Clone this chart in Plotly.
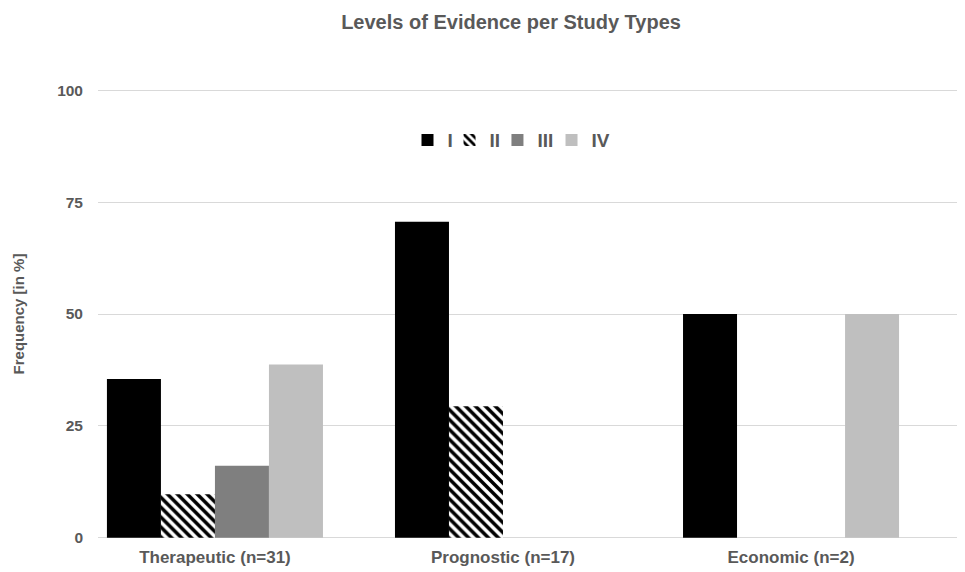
import plotly.graph_objects as go

categories = ["Therapeutic (n=31)", "Prognostic (n=17)", "Economic (n=2)"]
levels = ["I", "II", "III", "IV"]
values_I = [35.5, 70.6, 50.0]
values_II = [9.7, 29.4, 0]
values_III = [16.1, 0, 0]
values_IV = [38.7, 0, 50.0]
y_ticks = [0, 25, 50, 75, 100]

series = [values_I, values_II, values_III, values_IV]
colors = ["#000000", "#ffffff", "#7f7f7f", "#bfbfbf"]
legend_ids = ["legend", "legend2", "legend3", "legend4"]
legend_x = [0.3578, 0.4064, 0.4618, 0.5243]

font_fam = "Liberation Sans, Arial, sans-serif"
txt = "#595959"

fig = go.Figure()
for name, vals, col, lid in zip(levels, series, colors, legend_ids):
    if name == "II":
        marker = dict(color="#ffffff",
                      pattern=dict(shape="\\", fgcolor="#000000", bgcolor="#ffffff",
                                   fgopacity=1, size=7, solidity=0.5))
    else:
        marker = dict(color=col)
    marker["line"] = dict(width=0)
    fig.add_trace(go.Bar(x=list(range(len(categories))), y=vals,
                         name="<b>" + name + "</b>", marker=marker, legend=lid))

legend_style = dict(orientation="h", xanchor="left", y=0.8846, yanchor="middle",
                    font=dict(family=font_fam, size=19, color=txt),
                    itemwidth=30, bgcolor="rgba(0,0,0,0)", borderwidth=0)
legends = {}
for lid, lx in zip(legend_ids, legend_x):
    legends[lid] = dict(legend_style, x=lx)

fig.update_layout(
    width=965, height=572,
    barmode="group", bargap=0.25, bargroupgap=0,
    plot_bgcolor="white", paper_bgcolor="white",
    margin=dict(l=90, r=10, t=79.8, b=39.8, autoexpand=False),
    title=dict(text="<b>Levels of Evidence per Study Types</b>", x=0.4775, xref="paper",
               xanchor="center", y=0.9755, yanchor="middle",
               font=dict(family=font_fam, size=20, color=txt)),
    showlegend=True,
    font=dict(family=font_fam),
    **legends,
)

fig.update_xaxes(
    tickmode="array", tickvals=list(range(len(categories))),
    ticktext=["<b>" + c + "</b>" for c in categories],
    range=[-0.406, 2.597], showgrid=False, zeroline=False, showline=False,
    ticks="", automargin=False, ticklabelstandoff=5,
    tickfont=dict(family=font_fam, size=17, color=txt),
)
fig.update_yaxes(
    range=[-0.5, 100.5], tickmode="array", tickvals=y_ticks,
    ticktext=["<b>%d</b>" % t for t in y_ticks],
    showgrid=True, gridcolor="#d9d9d9", gridwidth=1.3,
    zeroline=False, showline=False, ticks="", automargin=False,
    ticklabelstandoff=14,
    tickfont=dict(family=font_fam, size=15.5, color=txt),
    title=dict(text="<b>Frequency [in %]</b>", standoff=28,
               font=dict(family=font_fam, size=15, color=txt)),
)

fig.write_html("out.html")
